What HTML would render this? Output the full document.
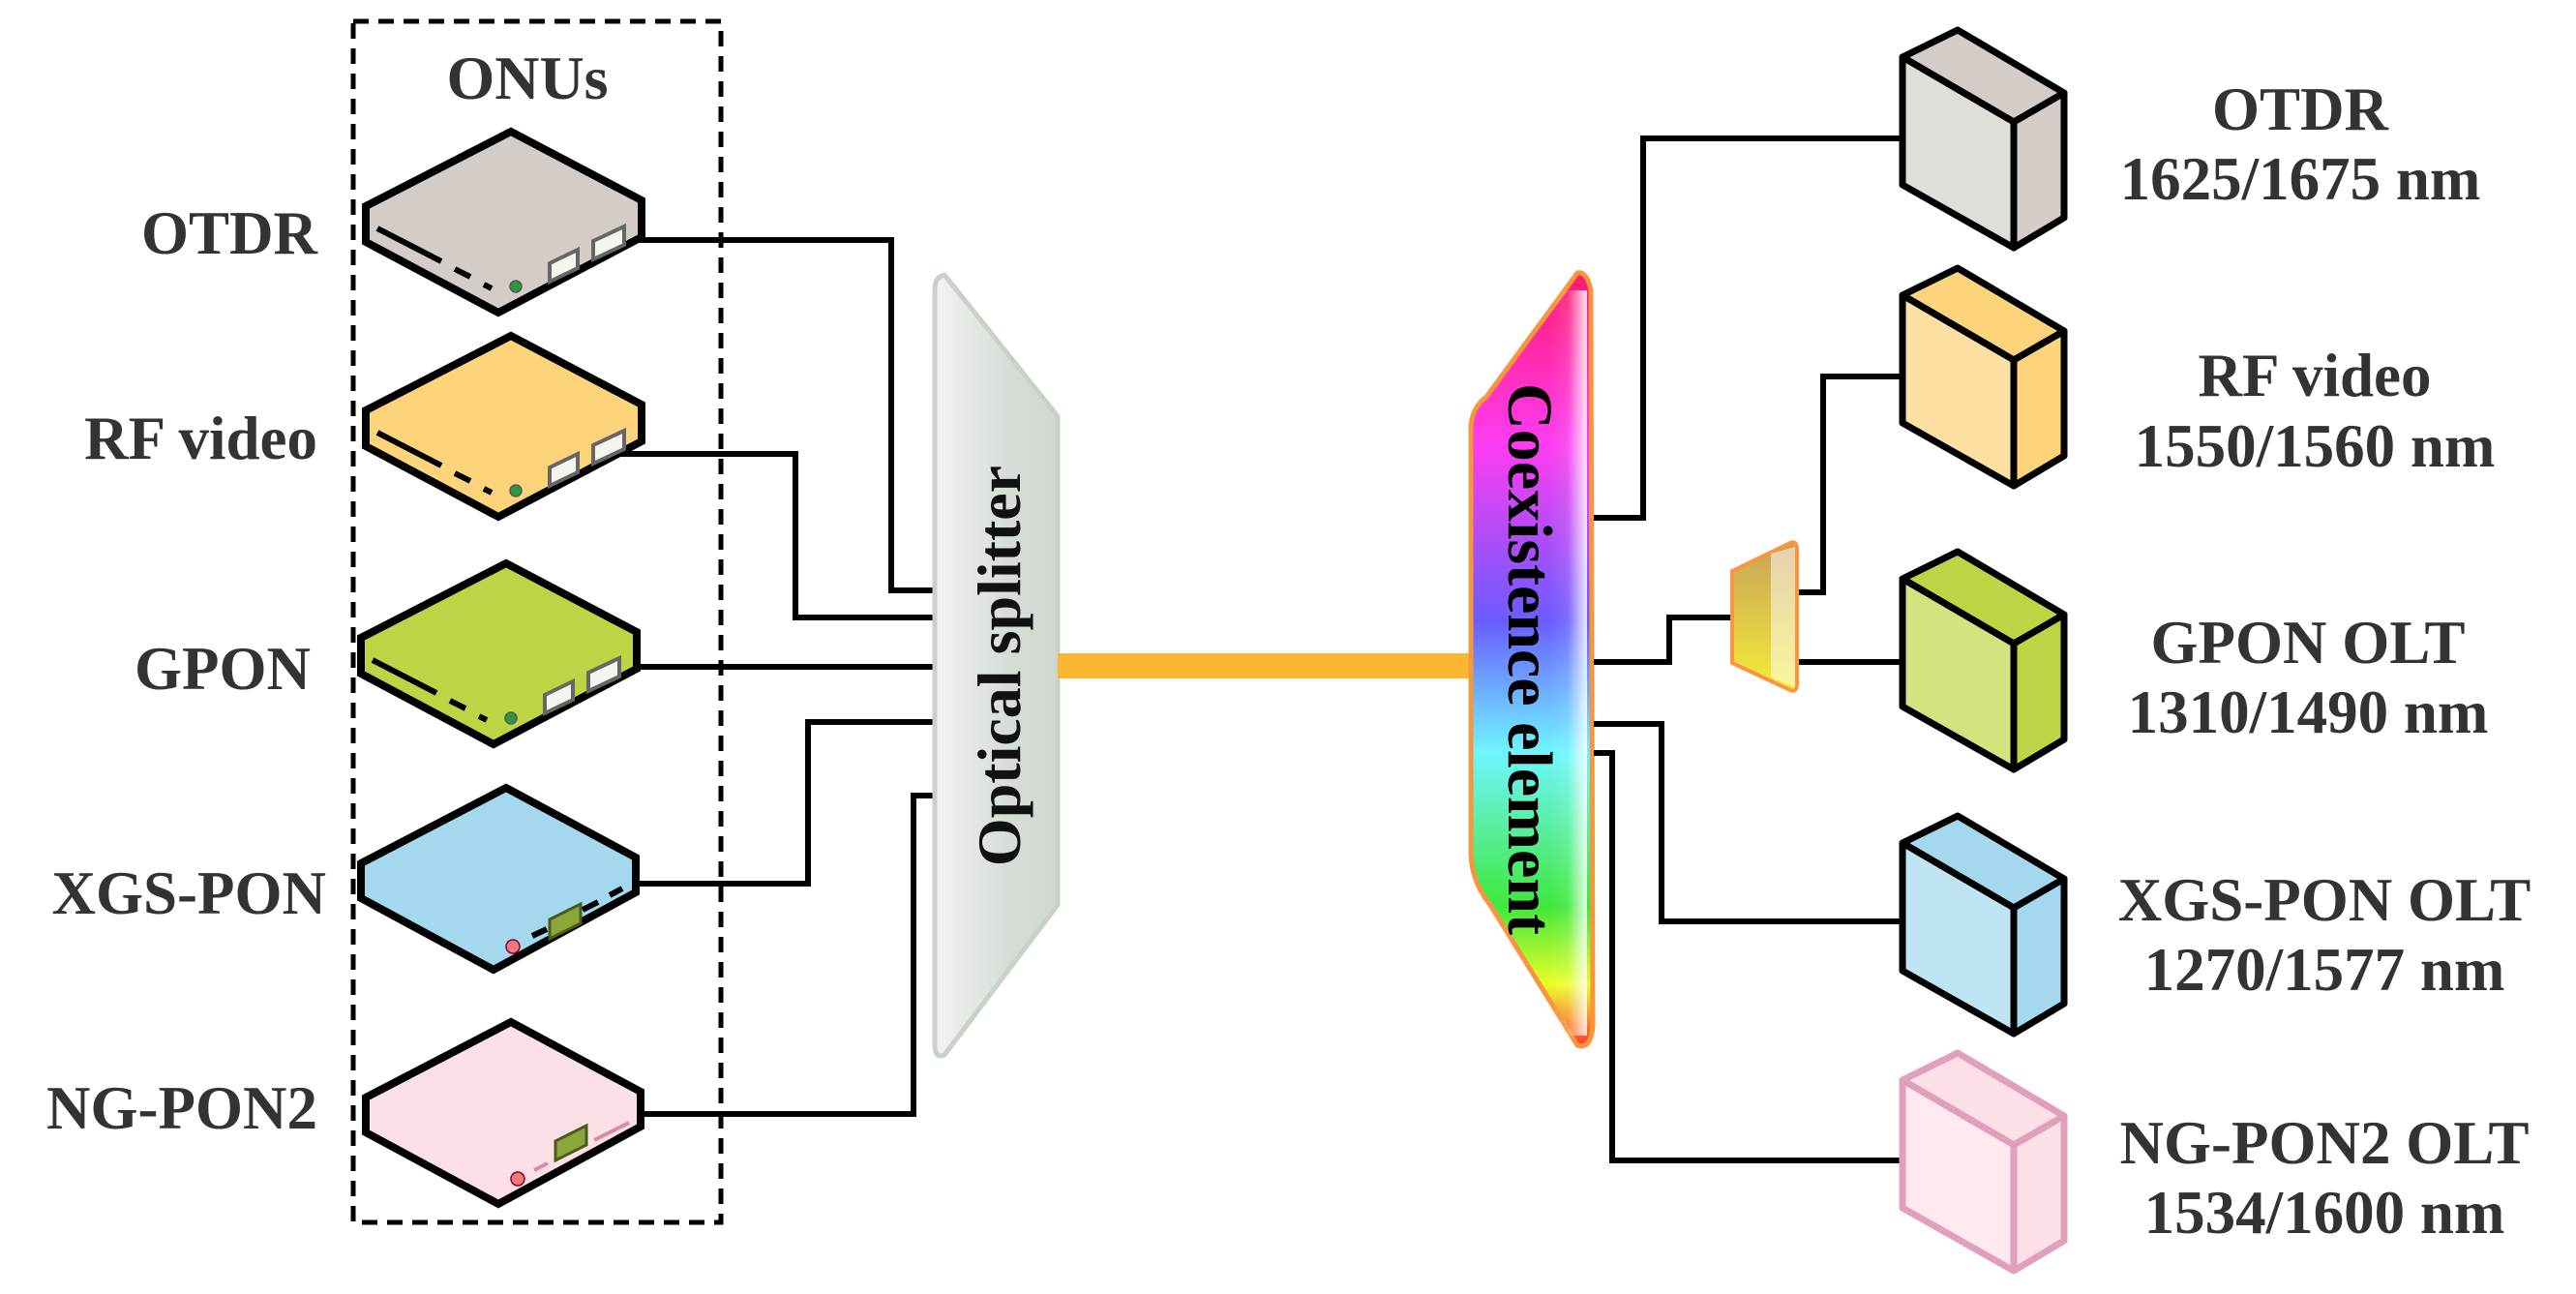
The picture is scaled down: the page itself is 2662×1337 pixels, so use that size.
<!DOCTYPE html>
<html><head><meta charset="utf-8"><style>
html,body{margin:0;padding:0;background:#fff;}
svg{display:block;}
text{font-family:"Liberation Serif",serif;font-weight:bold;fill:#333;}
</style></head><body>
<svg width="2662" height="1337" viewBox="0 0 2662 1337" xmlns="http://www.w3.org/2000/svg">
<defs>
<linearGradient id="coex" x1="0" y1="0" x2="0" y2="1">
<stop offset="0" stop-color="#ff1a6e"/>
<stop offset="0.22" stop-color="#ff3cf0"/>
<stop offset="0.45" stop-color="#6a5cff"/>
<stop offset="0.62" stop-color="#6ff5ff"/>
<stop offset="0.82" stop-color="#3fe83a"/>
<stop offset="0.92" stop-color="#eaff2a"/>
<stop offset="1" stop-color="#ff3a2a"/>
</linearGradient>
<linearGradient id="shine" x1="0" y1="0" x2="1" y2="0">
<stop offset="0" stop-color="#fff" stop-opacity="0"/>
<stop offset="0.5" stop-color="#fff" stop-opacity="0.1"/>
<stop offset="1" stop-color="#fff" stop-opacity="0.85"/>
</linearGradient>
<linearGradient id="split" x1="0" y1="0" x2="1" y2="0">
<stop offset="0" stop-color="#f2f4f0"/>
<stop offset="0.6" stop-color="#d6ddd6"/>
<stop offset="1" stop-color="#d0d8d0"/>
</linearGradient>
<linearGradient id="small" x1="0" y1="0" x2="0" y2="1">
<stop offset="0" stop-color="#c9a25a"/>
<stop offset="1" stop-color="#f5ec38"/>
</linearGradient>
</defs>

<rect x="365" y="22" width="380" height="1241" fill="none" stroke="#000" stroke-width="5" stroke-dasharray="16,10"/>
<text x="545" y="102" font-size="64" text-anchor="middle">ONUs</text>

<g font-size="63" text-anchor="end">
<text x="328" y="262">OTDR</text>
<text x="328" y="474">RF video</text>
<text x="321" y="712">GPON</text>
<text x="337" y="944">XGS-PON</text>
<text x="328" y="1166">NG-PON2</text>
</g>

<g fill="none" stroke="#000" stroke-width="6">
<polyline points="661,248 921,248 921,610 966,610"/>
<polyline points="628,469 822,469 822,638 966,638"/>
<polyline points="654,689 966,689"/>
<polyline points="658,913 835,913 835,746 966,746"/>
<polyline points="661,1151 944,1151 944,822 966,822"/>
</g>

<g stroke="#000" stroke-width="8" stroke-linejoin="miter">
<polygon points="528,136 663,207 663,245 515,323 378,250 378,213" fill="#d3ccc7"/>
<polygon points="528,347 663,418 663,456 515,534 378,461 378,424" fill="#fdd47a"/>
<polygon points="523,582 658,653 658,691 510,769 373,696 373,659" fill="#bdd544"/>
<polygon points="523,814 657,886 657,922 510,1002 373,928 373,892" fill="#a3d8ee"/>
<polygon points="528,1056 662,1128 662,1164 515,1244 378,1170 378,1134" fill="#fde0e6"/>
</g>
<g stroke="#000" stroke-width="6">
<line x1="390" y1="236" x2="456" y2="270"/><line x1="470" y1="278" x2="486" y2="286"/><line x1="500" y1="294" x2="508" y2="298"/>
<line x1="390" y1="447" x2="456" y2="481"/><line x1="470" y1="489" x2="486" y2="497"/><line x1="500" y1="505" x2="508" y2="509"/>
<line x1="385" y1="682" x2="451" y2="716"/><line x1="465" y1="724" x2="481" y2="732"/><line x1="495" y1="740" x2="503" y2="744"/>
<line x1="550" y1="967" x2="565" y2="960"/><line x1="602" y1="940" x2="618" y2="932"/><line x1="630" y1="925" x2="643" y2="918"/>
</g>
<g fill="#f4f5ee" stroke="#666" stroke-width="4">
<polygon points="568,272 597,258 597,277 568,291"/><polygon points="613,249 645,234 645,253 613,268"/>
<polygon points="568,483 597,469 597,488 568,502"/><polygon points="613,460 645,445 645,464 613,479"/>
<polygon points="563,718 592,704 592,723 563,737"/><polygon points="608,695 640,680 640,699 608,714"/>
</g>
<g fill="#2a9a3a" stroke="#556" stroke-width="1.5">
<circle cx="533" cy="296" r="6"/><circle cx="533" cy="507" r="6"/><circle cx="528" cy="742" r="6"/>
</g>
<polygon points="568,950 600,934 600,954 568,970" fill="#8aa83a" stroke="#4d5a1c" stroke-width="3"/>
<polygon points="574,1179 606,1163 606,1183 574,1199" fill="#8aa83a" stroke="#4d5a1c" stroke-width="3"/>
<circle cx="530" cy="978" r="7" fill="#f07a7a" stroke="#803" stroke-width="1.5"/>
<circle cx="535" cy="1218" r="7" fill="#f07a7a" stroke="#803" stroke-width="1.5"/>
<g stroke="#d88aa8" stroke-width="4"><line x1="552" y1="1209" x2="566" y2="1202"/><line x1="614" y1="1178" x2="650" y2="1160"/></g>

<path d="M976,284 Q966,286 966,300 L966,1080 Q966,1094 976,1090 L1093,935 L1093,430 Z" fill="url(#split)" stroke="#c8d2c8" stroke-width="5"/>
<text transform="translate(1054,688) rotate(-90)" font-size="64" text-anchor="middle" style="fill:#111">Optical splitter</text>

<rect x="1093" y="675" width="430" height="26" fill="#fbb632"/>

<path d="M1630,282 Q1640,280 1644,300 L1646,1060 Q1644,1085 1630,1080 L1540,935 Q1520,910 1520,880 L1520,440 Q1522,420 1536,410 Z" fill="url(#coex)" stroke="#f8953e" stroke-width="5"/>
<path d="M1600,300 L1640,300 L1640,1070 L1600,1070 Z" fill="url(#shine)"/>
<text transform="translate(1559,681) rotate(90)" font-size="66" text-anchor="middle" style="fill:#000">Coexistence element</text>

<g fill="none" stroke="#000" stroke-width="6">
<polyline points="1647,535 1698,535 1698,143 1966,143"/>
<polyline points="1647,684 1725,684 1725,638 1789,638"/>
<polyline points="1856,612 1884,612 1884,389 1966,389"/>
<polyline points="1856,684 1966,684"/>
<polyline points="1647,748 1717,748 1717,952 1966,952"/>
<polyline points="1647,778 1666,778 1666,1199 1966,1199"/>
</g>
<path d="M1790,590 L1850,561 Q1857,558 1857,568 L1857,706 Q1857,716 1850,713 L1790,685 Z" fill="url(#small)" stroke="#f8953e" stroke-width="4"/>
<path d="M1830,572 L1855,565 L1855,710 L1830,700 Z" fill="#fff" opacity="0.5"/>

<g stroke-width="7" stroke-linejoin="round">
<g stroke="#000">
<polygon points="1966,59 2023,31 2133,96 2081,126" fill="#d3ccc7"/>
<polygon points="1966,59 2081,126 2081,256 1966,191" fill="#e1ddd9"/>
<polygon points="2081,126 2133,96 2133,225 2081,256" fill="#d3ccc7"/>
</g>
<g stroke="#000" transform="translate(0,246)">
<polygon points="1966,59 2023,31 2133,96 2081,126" fill="#fdd47a"/>
<polygon points="1966,59 2081,126 2081,256 1966,191" fill="#fde0a2"/>
<polygon points="2081,126 2133,96 2133,225 2081,256" fill="#fdd47a"/>
</g>
<g stroke="#000" transform="translate(0,539)">
<polygon points="1966,59 2023,31 2133,96 2081,126" fill="#bdd544"/>
<polygon points="1966,59 2081,126 2081,256 1966,191" fill="#d4e37f"/>
<polygon points="2081,126 2133,96 2133,225 2081,256" fill="#bdd544"/>
</g>
<g stroke="#000" transform="translate(0,812)">
<polygon points="1966,59 2023,31 2133,96 2081,126" fill="#a3d8ee"/>
<polygon points="1966,59 2081,126 2081,256 1966,191" fill="#bfe4f4"/>
<polygon points="2081,126 2133,96 2133,225 2081,256" fill="#a3d8ee"/>
</g>
<g stroke="#e0a0bc" transform="translate(0,1057)">
<polygon points="1966,59 2023,31 2133,96 2081,126" fill="#fde0e6"/>
<polygon points="1966,59 2081,126 2081,256 1966,191" fill="#feeaee"/>
<polygon points="2081,126 2133,96 2133,225 2081,256" fill="#fde0e6"/>
</g>
</g>

<g font-size="63" text-anchor="middle">
<text x="2377" y="134">OTDR</text><text x="2377" y="206">1625/1675 nm</text>
<text x="2392" y="409">RF video</text><text x="2392" y="482">1550/1560 nm</text>
<text x="2385" y="685">GPON OLT</text><text x="2385" y="757">1310/1490 nm</text>
<text x="2402" y="951">XGS-PON OLT</text><text x="2402" y="1023">1270/1577 nm</text>
<text x="2402" y="1202">NG-PON2 OLT</text><text x="2402" y="1274">1534/1600 nm</text>
</g>
</svg>
</body></html>
